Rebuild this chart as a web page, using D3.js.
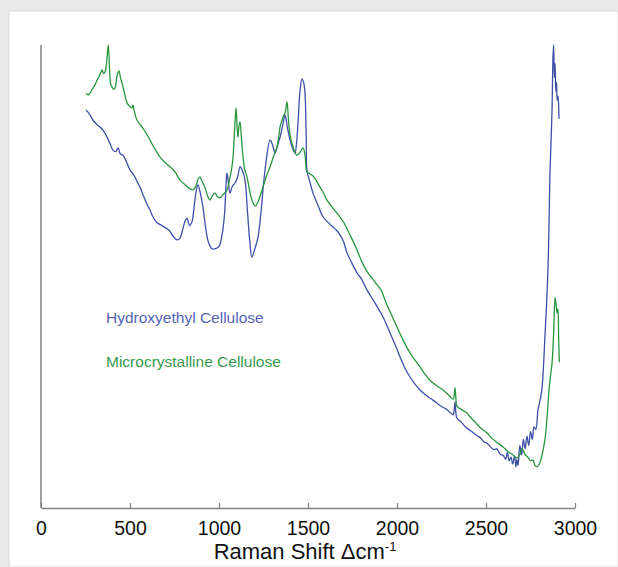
<!DOCTYPE html>
<html>
<head>
<meta charset="utf-8">
<script src="https://cdn.jsdelivr.net/npm/d3@7"></script>
<style>
    body { margin: 0; background: #fff; }
    svg text { font-family: "Liberation Sans", Arial, sans-serif; }
</style>
</head>
<body>
<svg id="chart" width="618" height="567"></svg>
<script>
// [Raman shift cm-1, relative intensity]
const hecSpectrum = [
    [253, 86.0], [270, 85.2], [292, 83.8], [310, 83.0], [331, 82.3], [350, 81.5], [371, 80.1],
    [390, 78.5], [404, 77.3], [420, 77.0], [433, 77.8], [445, 76.5], [461, 76.2], [480, 74.8],
    [500, 73.0], [520, 72.0], [540, 70.5], [556, 69.3], [580, 67.0], [600, 65.3], [612, 64.4],
    [630, 62.8], [652, 61.6], [680, 61.0], [700, 60.5], [720, 60.0], [740, 58.8], [764, 57.9],
    [781, 58.3], [795, 60.0], [808, 61.8], [820, 62.6], [835, 61.0], [848, 61.8], [860, 65.0],
    [872, 68.5], [882, 69.8], [895, 68.0], [910, 65.0], [925, 60.5], [940, 57.5], [960, 56.0],
    [980, 56.0], [1000, 56.5], [1015, 58.5], [1030, 63.0], [1040, 70.0], [1045, 72.4],
    [1052, 70.5], [1062, 68.0], [1075, 69.5], [1090, 70.2], [1105, 71.5], [1118, 73.7],
    [1130, 73.0], [1146, 70.8], [1160, 64.0], [1172, 58.0], [1185, 54.2], [1200, 55.8],
    [1219, 58.5], [1235, 63.5], [1247, 68.7], [1265, 75.0], [1287, 79.5], [1300, 78.5],
    [1315, 76.7], [1330, 78.5], [1343, 80.1], [1360, 83.0], [1371, 84.9], [1385, 82.0],
    [1399, 79.5], [1415, 77.5], [1427, 76.7], [1436, 79.0], [1444, 83.2], [1455, 90.0],
    [1466, 92.7], [1475, 92.0], [1483, 89.6], [1490, 80.0], [1494, 73.0], [1510, 70.5],
    [1528, 68.0], [1555, 65.5], [1584, 62.9], [1610, 61.8], [1640, 60.7], [1660, 60.0],
    [1680, 59.0], [1700, 57.5], [1719, 55.1], [1745, 53.0], [1775, 50.8], [1800, 49.5],
    [1831, 47.1], [1860, 45.3], [1893, 43.2], [1921, 41.3], [1950, 38.8], [1978, 36.3],
    [2000, 34.3], [2017, 32.6], [2045, 30.2], [2073, 28.3], [2100, 26.8], [2129, 25.5],
    [2165, 24.3], [2202, 23.3], [2240, 22.2], [2281, 21.2], [2300, 20.6], [2315, 20.1],
    [2322, 21.5], [2326, 22.9], [2331, 20.5], [2337, 19.4], [2360, 18.6], [2385, 17.5],
    [2410, 16.8], [2430, 16.2], [2450, 15.6], [2470, 15.1], [2490, 14.2], [2506, 14.0],
    [2525, 13.2], [2545, 12.6], [2560, 12.8], [2580, 11.6], [2596, 11.4], [2610, 10.5],
    [2620, 12.0], [2630, 10.2], [2640, 11.0], [2650, 9.5], [2660, 11.2], [2668, 8.9],
    [2674, 10.5], [2680, 9.2], [2690, 13.5], [2700, 11.5], [2710, 14.8], [2720, 12.8],
    [2730, 15.5], [2740, 13.5], [2750, 16.5], [2760, 14.8], [2770, 17.5], [2780, 17.0],
    [2792, 21.2], [2805, 23.5], [2815, 26.0], [2831, 36.9], [2848, 51.4], [2860, 73.0],
    [2871, 86.0], [2876, 97.0], [2880, 100], [2884, 93.0], [2888, 96.0], [2892, 90.0],
    [2896, 92.0], [2900, 88.0], [2905, 89.0], [2910, 84.0]
];

const mccSpectrum = [
    [253, 89.6], [265, 89.2], [275, 89.6], [292, 90.7], [305, 91.5], [315, 92.4], [330, 93.5],
    [343, 94.6], [352, 93.8], [360, 94.2], [368, 96.0], [378, 100], [386, 94.0], [392, 91.5],
    [399, 90.9], [408, 90.4], [416, 90.7], [428, 93.5], [438, 94.4], [446, 93.0], [455, 91.8],
    [470, 89.5], [483, 87.5], [498, 86.8], [511, 86.4], [517, 87.0], [525, 85.5], [539, 83.8],
    [553, 83.0], [567, 82.3], [590, 81.0], [612, 79.5], [640, 77.5], [669, 75.8], [700, 74.5],
    [725, 73.7], [755, 72.5], [781, 70.8], [810, 69.8], [835, 69.0], [854, 68.7], [870, 69.5],
    [882, 71.0], [893, 71.5], [905, 70.5], [921, 69.3], [935, 67.5], [949, 66.5], [963, 67.5],
    [978, 68.0], [992, 67.2], [1006, 67.0], [1025, 67.8], [1045, 68.7], [1062, 71.5],
    [1072, 73.5], [1079, 75.8], [1088, 82.0], [1096, 86.4], [1102, 82.0], [1107, 80.1],
    [1112, 82.5], [1118, 83.4], [1126, 80.0], [1135, 75.8], [1145, 73.0], [1157, 71.5],
    [1175, 68.0], [1191, 65.9], [1205, 65.2], [1219, 66.1], [1232, 67.5], [1247, 69.3],
    [1265, 71.5], [1287, 73.7], [1305, 75.8], [1326, 78.0], [1335, 80.0], [1343, 82.3],
    [1352, 83.5], [1360, 84.4], [1372, 85.5], [1382, 87.7], [1390, 84.0], [1399, 80.6],
    [1420, 77.5], [1438, 76.2], [1455, 76.8], [1472, 77.8], [1484, 76.0], [1494, 72.6],
    [1510, 72.2], [1528, 71.7], [1545, 70.8], [1567, 69.3], [1585, 68.2], [1607, 66.5],
    [1635, 65.0], [1663, 63.7], [1680, 62.8], [1702, 61.6], [1720, 60.2], [1742, 58.5],
    [1770, 56.2], [1798, 53.6], [1825, 51.5], [1854, 49.9], [1880, 48.6], [1910, 47.1],
    [1930, 45.2], [1949, 43.4], [1975, 41.2], [2000, 39.1], [2035, 36.2], [2073, 33.5],
    [2100, 32.0], [2129, 30.5], [2155, 29.0], [2185, 27.6], [2220, 26.5], [2258, 25.5],
    [2290, 24.4], [2315, 23.5], [2322, 24.5], [2326, 26.0], [2331, 23.5], [2337, 22.0],
    [2365, 21.2], [2393, 20.5], [2410, 19.7], [2440, 18.5], [2470, 17.3], [2506, 16.2],
    [2530, 15.2], [2560, 14.2], [2596, 13.2], [2620, 12.3], [2650, 11.5], [2674, 10.8],
    [2690, 11.5], [2700, 12.8], [2708, 12.5], [2720, 11.5], [2735, 11.0], [2750, 10.2],
    [2764, 10.4], [2775, 9.2], [2787, 8.9], [2800, 9.5], [2815, 11.5], [2831, 14.7],
    [2845, 20.5], [2854, 25.5], [2864, 29.0], [2871, 31.3], [2878, 36.0], [2882, 40.0],
    [2888, 45.5], [2893, 44.3], [2899, 42.1], [2904, 43.0], [2908, 37.0], [2912, 31.5]
];

const xTicks = [0, 500, 1000, 1500, 2000, 2500, 3000];
const seriesNames = ["Hydroxyethyl Cellulose", "Microcrystalline Cellulose"];
const seriesColors = ["#3f4fa8", "#28963f"];
const labelColors = ["#5565b4", "#369a4e"];

const svg = d3.select("#chart");

// Grey frame round the white panel
svg.append("rect").attr("width", 618).attr("height", 567).attr("fill", "#e9e9e9");
svg.append("rect").attr("x", 9).attr("y", 11).attr("width", 609).attr("height", 556)
    .attr("fill", "#fff").attr("stroke", "#dcdcdc").attr("stroke-width", 1);

const x = d3.scaleLinear().domain([0, 3000]).range([41, 575]);
const y = d3.scaleLinear().domain([0, 100]).range([508, 45]);

const xAxis = svg.append("g")
    .attr("transform", `translate(0,${y(0)})`)
    .call(d3.axisTop(x).tickValues(xTicks).tickSize(5).tickSizeOuter(0).tickFormat(d3.format("d")));
xAxis.select(".domain").attr("stroke", "#808080").attr("stroke-width", 1.5);
xAxis.selectAll(".tick line").attr("stroke", "#808080").attr("stroke-width", 1.2);
xAxis.selectAll(".tick text")
    .attr("y", 0).attr("dy", "1.4em")
    .attr("fill", "#111").attr("font-size", "19.5px");

// Plain y axis, no ticks
svg.append("line")
    .attr("x1", x(0)).attr("x2", x(0))
    .attr("y1", y(100)).attr("y2", y(0))
    .attr("stroke", "#808080").attr("stroke-width", 1.5);

const title = svg.append("text")
    .attr("x", 305).attr("y", 559)
    .attr("text-anchor", "middle").attr("font-size", "22px").attr("fill", "#111");
title.append("tspan").text("Raman Shift \u0394cm");
title.append("tspan").attr("font-size", "13px").attr("dy", "-8").text("-1");

const line = d3.line()
    .x(d => x(d[0]))
    .y(d => y(d[1]))
    .curve(d3.curveCatmullRom.alpha(0.5));

[hecSpectrum, mccSpectrum].forEach((points, i) => {
    svg.append("path")
        .datum(points)
        .attr("fill", "none")
        .attr("stroke", seriesColors[i])
        .attr("stroke-width", 1.3)
        .attr("stroke-linejoin", "round")
        .attr("d", line);
});

// Labels standing in for a legend
svg.selectAll(".series-label")
    .data(seriesNames)
    .join("text")
    .attr("class", "series-label")
    .attr("x", 106)
    .attr("y", (d, i) => 323 + i * 44)
    .attr("font-size", "15.5px")
    .attr("fill", (d, i) => labelColors[i])
    .text(d => d);
</script>
</body>
</html>
